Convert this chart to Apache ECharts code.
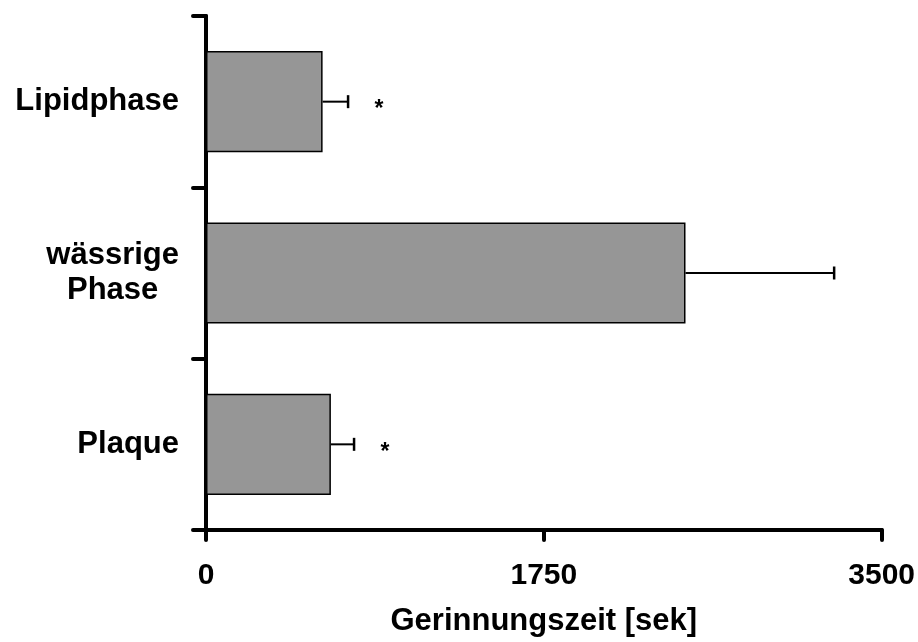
<!DOCTYPE html>
<html>
<head>
<meta charset="utf-8">
<script src="https://cdn.jsdelivr.net/npm/echarts@6/dist/echarts.min.js"></script>
<style>
html,body{margin:0;padding:0;background:#fff;overflow:hidden;}
#chart{width:918px;height:642px;}
</style>
</head>
<body>
<div id="chart"></div>
<script>
// Data
var categories = ['Lipidphase', 'wässrige Phase', 'Plaque'];
var meanValues = [604, 2484, 647];
var errorValues = [132, 770, 120];
var significance = ['*', '', '*'];
var xTicks = [0, 1750, 3500];
var xAxisTitle = 'Gerinnungszeit [sek]';

var FONT = '"Liberation Sans", Arial, Helvetica, sans-serif';

var errorData = meanValues.map(function (m, i) {
  return [m, i, m + errorValues[i], significance[i]];
});

var chart = echarts.init(document.getElementById('chart'), null, {renderer: 'canvas', width: 918, height: 642});

chart.setOption({
  animation: false,
  backgroundColor: '#ffffff',
  grid: {left: 206, right: 32, top: 16, bottom: 105, containLabel: false},
  xAxis: {
    type: 'value',
    min: xTicks[0],
    max: xTicks[xTicks.length - 1],
    interval: xTicks[1] - xTicks[0],
    name: xAxisTitle,
    nameLocation: 'middle',
    nameGap: 76,
    nameTextStyle: {fontFamily: FONT, fontWeight: 'bold', fontSize: 31, color: '#000'},
    axisLine: {show: true, lineStyle: {color: '#000', width: 4, cap: 'round'}},
    axisTick: {show: true, length: 10, lineStyle: {color: '#000', width: 4, cap: 'round'}},
    axisLabel: {
      fontFamily: FONT, fontWeight: 'bold', fontSize: 30, color: '#000', margin: 31,
      formatter: function (v) { return String(v); }
    },
    splitLine: {show: false}
  },
  yAxis: {
    type: 'category',
    data: categories,
    inverse: true,
    axisLine: {show: true, lineStyle: {color: '#000', width: 4, cap: 'round'}},
    axisTick: {show: true, length: 13, interval: 0, alignWithLabel: false, lineStyle: {color: '#000', width: 4, cap: 'round'}},
    axisLabel: {
      margin: 27,
      fontFamily: FONT, fontWeight: 'bold', fontSize: 31, color: '#000',
      formatter: function (v) {
        if (v.indexOf(' ') > 0) {
          var parts = v.split(' ');
          return parts.map(function (p) { return '{c|' + p + '}'; }).join('\n');
        }
        return v;
      },
      rich: {
        c: {align: 'center', fontFamily: FONT, fontWeight: 'bold', fontSize: 31, color: '#000', lineHeight: 35}
      }
    },
    splitLine: {show: false}
  },
  series: [
    {
      type: 'bar',
      data: meanValues,
      barWidth: '59%',
      itemStyle: {color: '#969696', borderColor: '#000', borderWidth: 1.5},
      z: 2
    },
    {
      type: 'custom',
      data: errorData,
      encode: {x: [0, 2], y: 1},
      z: 3,
      renderItem: function (params, api) {
        var start = api.coord([api.value(0), api.value(1)]);
        var end = api.coord([api.value(2), api.value(1)]);
        var capH = 13;
        var children = [
          {type: 'line', shape: {x1: start[0], y1: start[1], x2: end[0], y2: end[1]}, style: {stroke: '#000', lineWidth: 2}},
          {type: 'line', shape: {x1: end[0], y1: end[1] - capH / 2, x2: end[0], y2: end[1] + capH / 2}, style: {stroke: '#000', lineWidth: 2.5}}
        ];
        var sig = errorData[params.dataIndex][3];
        if (sig) {
          children.push({
            type: 'text',
            style: {text: sig, x: end[0] + 31, y: end[1] + 8, textAlign: 'center', textVerticalAlign: 'middle',
                    font: 'bold 23px ' + FONT, fill: '#000'}
          });
        }
        return {type: 'group', children: children};
      }
    }
  ]
});
</script>
</body>
</html>
